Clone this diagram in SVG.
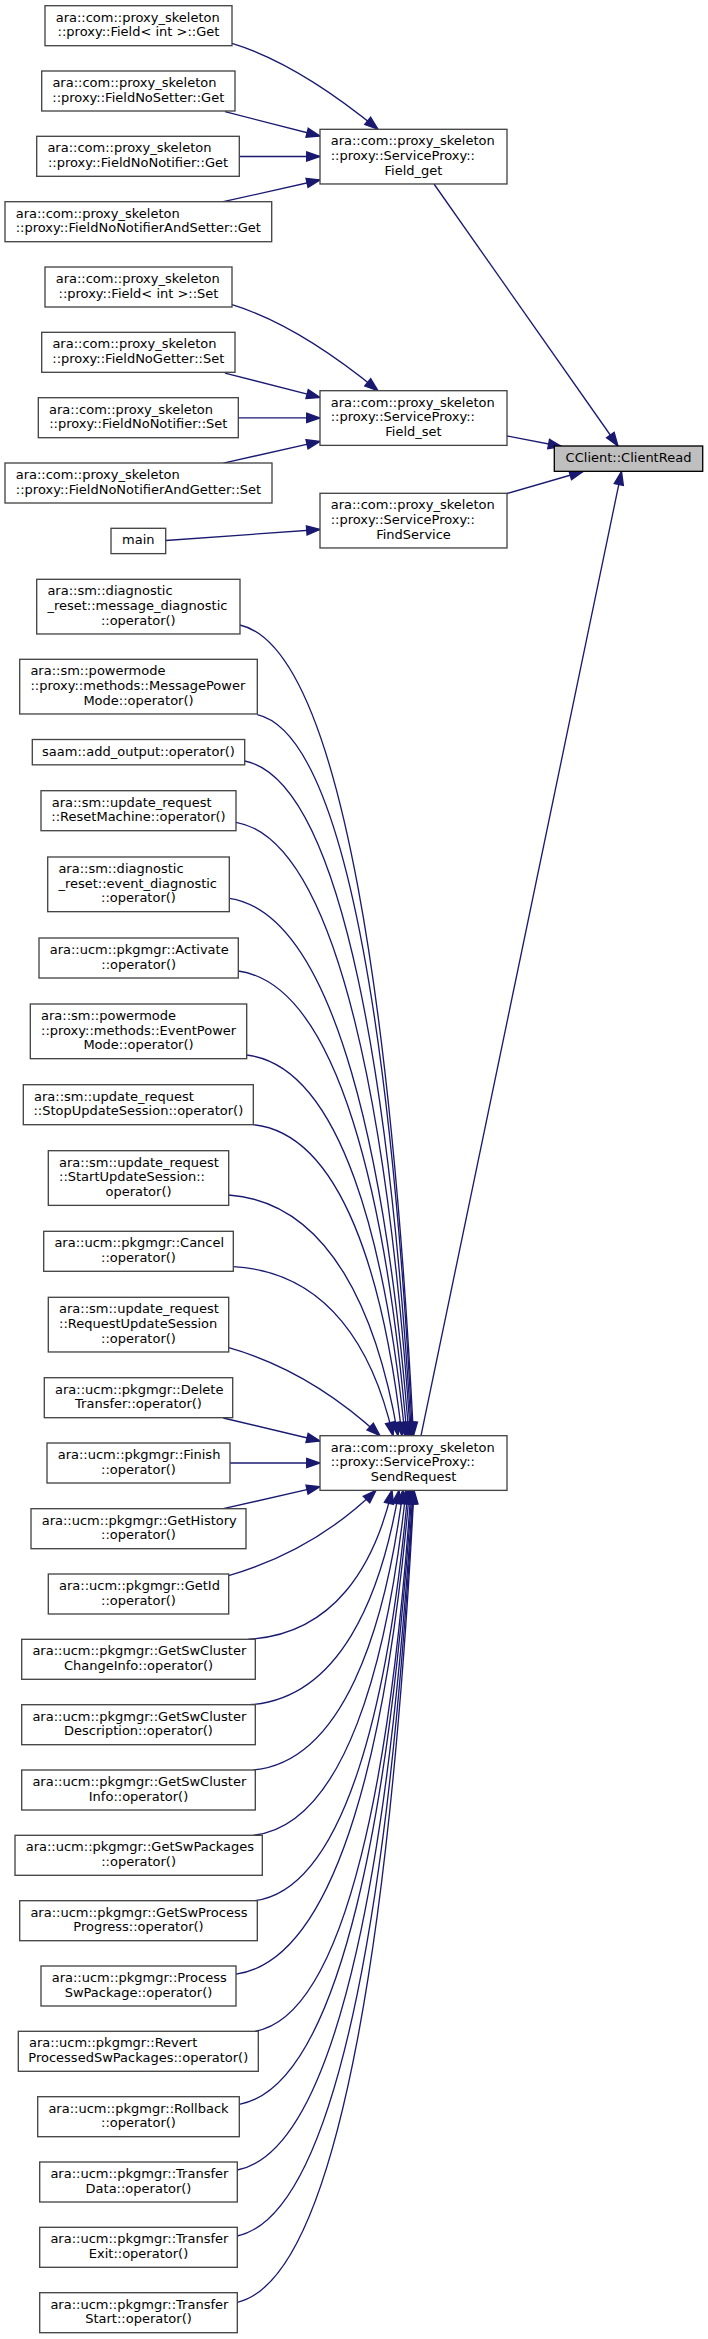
<svg xmlns="http://www.w3.org/2000/svg" width="708" height="2339" viewBox="0 0 708 2339">
<style>
.n rect{fill:#ffffff;stroke:#444444;stroke-width:1.33}
.hl rect{fill:#bfbfbf;stroke:#000000;stroke-width:1.33}
text{font-family:"DejaVu Sans","Liberation Sans",sans-serif;font-size:13px;fill:#000000}
.l{text-anchor:start}
.c{text-anchor:middle}
#edges path{fill:none;stroke:#191970;stroke-width:1.33;marker-end:url(#ah)}
</style>
<defs>
<marker id="ah" viewBox="0 0 14 10" refX="13.3" refY="5" markerWidth="14" markerHeight="10" markerUnits="userSpaceOnUse" orient="auto" overflow="visible">
<path d="M0,0.33 L13.3,5 L0,9.67 Z" fill="#191970" stroke="#191970" stroke-width="1.33"/>
</marker>
</defs>
<rect x="0" y="0" width="708" height="2339" fill="#ffffff"/>
<g id="edges">
<path d="M232,43.3 C280,58 330,90 378,129.3"/>
<path d="M225,111.7 L320,136"/>
<path d="M239.3,156.5 L320,156.5"/>
<path d="M223.3,201.7 L320,180"/>
<path d="M232,304.7 C280,319.4 330,351.4 378,390.7"/>
<path d="M225,373.1 L320,397.4"/>
<path d="M238.3,417.9 L320,417.9"/>
<path d="M223.3,463.1 L320,441.4"/>
<path d="M165.7,540.5 L320,529.5"/>
<path d="M434,184 L618,446"/>
<path d="M507,436 L561.7,446.5"/>
<path d="M507,493.5 L583,471.5"/>
<path d="M421,1435.7 L621.5,471.5"/>
<path d="M240,625 C344.1,649.3 392.7,1030.4 413.5,1435.7"/>
<path d="M257.3,714.7 C350.4,736.3 393.9,1075.2 412.5,1435.7"/>
<path d="M244.7,761 C344.8,781.2 391.5,1098.4 411.5,1435.7"/>
<path d="M236,822.3 C340.7,840.7 389.6,1129 410.5,1435.7"/>
<path d="M229.3,898.3 C337.1,914.4 387.4,1167 409,1435.7"/>
<path d="M238.3,971 C339.5,984.9 386.8,1203.4 407,1435.7"/>
<path d="M246.7,1055 C341.7,1066.4 386,1245.4 405,1435.7"/>
<path d="M253.3,1124.7 C342.5,1134 384.2,1280.2 402,1435.7"/>
<path d="M228.7,1195 C330.3,1202.2 377.7,1315.4 398,1435.7"/>
<path d="M233.3,1266.7 C329.1,1271.8 373.8,1351.2 393,1435.7"/>
<path d="M228.7,1347.7 C272,1360 325,1385 380,1435.7"/>
<path d="M223.3,1418 L320,1441"/>
<path d="M230,1463 L320,1463"/>
<path d="M223.3,1508.7 L320,1486.7"/>
<path d="M228.7,1575.7 C272,1563 325,1540 376,1490.3"/>
<path d="M248,1639.3 C334.4,1634.8 374.7,1564.8 392,1490.3"/>
<path d="M250,1704.7 C339.4,1698.3 381.1,1597.5 399,1490.3"/>
<path d="M253.3,1770 C343.1,1761.6 385,1630.2 403,1490.3"/>
<path d="M253.3,1835.3 C344.9,1825 387.7,1662.8 406,1490.3"/>
<path d="M255,1900.7 C346.8,1888.4 389.6,1695.5 408,1490.3"/>
<path d="M236,1974.2 C340.1,1959.7 388.7,1732.3 409.5,1490.3"/>
<path d="M255,2031.3 C348.6,2015.1 392.3,1760.8 411,1490.3"/>
<path d="M239.3,2104.3 C342.9,2085.9 391.3,1797.3 412,1490.3"/>
<path d="M237.3,2170 C342.7,2149.6 391.9,1830.2 413,1490.3"/>
<path d="M237.3,2236 C343,2213.6 392.4,1863.2 413.5,1490.3"/>
<path d="M237.3,2302.3 C343.3,2277.9 392.8,1896.3 414,1490.3"/>
</g>
<g id="clientread" class="hl"><rect x="554.3" y="446" width="148.4" height="25.33"/><text class="c" x="628.5" y="462">CClient::ClientRead</text></g>
<g id="field_get" class="n"><rect x="320" y="129.3" width="187" height="54.67"/><text class="l" x="330.7" y="145.3">ara::com::proxy_skeleton</text><text class="l" x="330.7" y="160">::proxy::ServiceProxy::</text><text class="c" x="413.5" y="174.7">Field_get</text></g>
<g id="field_set" class="n"><rect x="320" y="390.7" width="187" height="54.67"/><text class="l" x="330.7" y="406.7">ara::com::proxy_skeleton</text><text class="l" x="330.7" y="421.4">::proxy::ServiceProxy::</text><text class="c" x="413.5" y="436.1">Field_set</text></g>
<g id="findservice" class="n"><rect x="320" y="493.3" width="187" height="54.67"/><text class="l" x="330.7" y="509.3">ara::com::proxy_skeleton</text><text class="l" x="330.7" y="524">::proxy::ServiceProxy::</text><text class="c" x="413.5" y="538.7">FindService</text></g>
<g id="sendrequest" class="n"><rect x="320" y="1435.7" width="187" height="54.67"/><text class="l" x="330.7" y="1451.7">ara::com::proxy_skeleton</text><text class="l" x="330.7" y="1466.4">::proxy::ServiceProxy::</text><text class="c" x="413.5" y="1481.1">SendRequest</text></g>
<g id="n1" class="n"><rect x="45" y="5.7" width="187" height="40"/><text class="l" x="55.7" y="21.7">ara::com::proxy_skeleton</text><text class="c" x="138.5" y="36.4">::proxy::Field&lt; int &gt;::Get</text></g>
<g id="n2" class="n"><rect x="41.7" y="71" width="193.3" height="40"/><text class="l" x="52.4" y="87">ara::com::proxy_skeleton</text><text class="c" x="138.3" y="101.7">::proxy::FieldNoSetter::Get</text></g>
<g id="n3" class="n"><rect x="36.7" y="136.3" width="202.6" height="40"/><text class="l" x="47.4" y="152.3">ara::com::proxy_skeleton</text><text class="c" x="138" y="167">::proxy::FieldNoNotifier::Get</text></g>
<g id="n4" class="n"><rect x="5" y="201.7" width="266.7" height="40"/><text class="l" x="15.7" y="217.7">ara::com::proxy_skeleton</text><text class="c" x="138.3" y="232.4">::proxy::FieldNoNotifierAndSetter::Get</text></g>
<g id="n5" class="n"><rect x="45" y="267" width="187" height="40"/><text class="l" x="55.7" y="283">ara::com::proxy_skeleton</text><text class="c" x="138.5" y="297.7">::proxy::Field&lt; int &gt;::Set</text></g>
<g id="n6" class="n"><rect x="41.7" y="332.3" width="193.3" height="40"/><text class="l" x="52.4" y="348.3">ara::com::proxy_skeleton</text><text class="c" x="138.3" y="363">::proxy::FieldNoGetter::Set</text></g>
<g id="n7" class="n"><rect x="38.3" y="397.7" width="200" height="40"/><text class="l" x="49" y="413.7">ara::com::proxy_skeleton</text><text class="c" x="138.3" y="428.4">::proxy::FieldNoNotifier::Set</text></g>
<g id="n8" class="n"><rect x="5" y="463" width="267" height="40"/><text class="l" x="15.7" y="479">ara::com::proxy_skeleton</text><text class="c" x="138.5" y="493.7">::proxy::FieldNoNotifierAndGetter::Set</text></g>
<g id="n9" class="n"><rect x="111" y="528.3" width="54.7" height="25.33"/><text class="c" x="138.3" y="544.3">main</text></g>
<g id="n10" class="n"><rect x="36.7" y="579.3" width="203.3" height="54.67"/><text class="l" x="47.4" y="595.3">ara::sm::diagnostic</text><text class="l" x="47.4" y="610">_reset::message_diagnostic</text><text class="c" x="138.3" y="624.7">::operator()</text></g>
<g id="n11" class="n"><rect x="19.7" y="659.3" width="237.6" height="54.67"/><text class="l" x="30.4" y="675.3">ara::sm::powermode</text><text class="l" x="30.4" y="690">::proxy::methods::MessagePower</text><text class="c" x="138.5" y="704.7">Mode::operator()</text></g>
<g id="n12" class="n"><rect x="32.3" y="739.5" width="212.4" height="25.33"/><text class="c" x="138.5" y="755.5">saam::add_output::operator()</text></g>
<g id="n13" class="n"><rect x="41" y="790.7" width="195" height="40"/><text class="l" x="51.7" y="806.7">ara::sm::update_request</text><text class="c" x="138.5" y="821.4">::ResetMachine::operator()</text></g>
<g id="n14" class="n"><rect x="47.7" y="857" width="181.6" height="54.67"/><text class="l" x="58.4" y="873">ara::sm::diagnostic</text><text class="l" x="58.4" y="887.7">_reset::event_diagnostic</text><text class="c" x="138.5" y="902.4">::operator()</text></g>
<g id="n15" class="n"><rect x="39" y="938" width="199.3" height="40"/><text class="l" x="49.7" y="954">ara::ucm::pkgmgr::Activate</text><text class="c" x="138.7" y="968.7">::operator()</text></g>
<g id="n16" class="n"><rect x="30.3" y="1004" width="216.4" height="54.67"/><text class="l" x="41" y="1020">ara::sm::powermode</text><text class="l" x="41" y="1034.7">::proxy::methods::EventPower</text><text class="c" x="138.5" y="1049.4">Mode::operator()</text></g>
<g id="n17" class="n"><rect x="23.3" y="1084.7" width="230" height="40"/><text class="l" x="34" y="1100.7">ara::sm::update_request</text><text class="c" x="138.3" y="1115.4">::StopUpdateSession::operator()</text></g>
<g id="n18" class="n"><rect x="48.3" y="1150.7" width="180.4" height="54.67"/><text class="l" x="59" y="1166.7">ara::sm::update_request</text><text class="l" x="59" y="1181.4">::StartUpdateSession::</text><text class="c" x="138.5" y="1196.1">operator()</text></g>
<g id="n19" class="n"><rect x="43.7" y="1231.3" width="189.6" height="40"/><text class="l" x="54.4" y="1247.3">ara::ucm::pkgmgr::Cancel</text><text class="c" x="138.5" y="1262">::operator()</text></g>
<g id="n20" class="n"><rect x="48.3" y="1297.3" width="180.4" height="54.67"/><text class="l" x="59" y="1313.3">ara::sm::update_request</text><text class="l" x="59" y="1328">::RequestUpdateSession</text><text class="c" x="138.5" y="1342.7">::operator()</text></g>
<g id="n21" class="n"><rect x="44.3" y="1377.7" width="188.4" height="40"/><text class="l" x="55" y="1393.7">ara::ucm::pkgmgr::Delete</text><text class="c" x="138.5" y="1408.4">Transfer::operator()</text></g>
<g id="n22" class="n"><rect x="47" y="1443" width="183" height="40"/><text class="l" x="57.7" y="1459">ara::ucm::pkgmgr::Finish</text><text class="c" x="138.5" y="1473.7">::operator()</text></g>
<g id="n23" class="n"><rect x="31" y="1508.7" width="215" height="40"/><text class="l" x="41.7" y="1524.7">ara::ucm::pkgmgr::GetHistory</text><text class="c" x="138.5" y="1539.4">::operator()</text></g>
<g id="n24" class="n"><rect x="48.3" y="1574" width="180.4" height="40"/><text class="l" x="59" y="1590">ara::ucm::pkgmgr::GetId</text><text class="c" x="138.5" y="1604.7">::operator()</text></g>
<g id="n25" class="n"><rect x="21.7" y="1639.3" width="233.6" height="40"/><text class="l" x="32.4" y="1655.3">ara::ucm::pkgmgr::GetSwCluster</text><text class="c" x="138.5" y="1670">ChangeInfo::operator()</text></g>
<g id="n26" class="n"><rect x="21.7" y="1704.7" width="233.6" height="40"/><text class="l" x="32.4" y="1720.7">ara::ucm::pkgmgr::GetSwCluster</text><text class="c" x="138.5" y="1735.4">Description::operator()</text></g>
<g id="n27" class="n"><rect x="21.7" y="1770" width="233.6" height="40"/><text class="l" x="32.4" y="1786">ara::ucm::pkgmgr::GetSwCluster</text><text class="c" x="138.5" y="1800.7">Info::operator()</text></g>
<g id="n28" class="n"><rect x="15" y="1835.3" width="247.3" height="40"/><text class="l" x="25.7" y="1851.3">ara::ucm::pkgmgr::GetSwPackages</text><text class="c" x="138.6" y="1866">::operator()</text></g>
<g id="n29" class="n"><rect x="19.7" y="1900.7" width="237.6" height="40"/><text class="l" x="30.4" y="1916.7">ara::ucm::pkgmgr::GetSwProcess</text><text class="c" x="138.5" y="1931.4">Progress::operator()</text></g>
<g id="n30" class="n"><rect x="41" y="1966" width="195" height="40"/><text class="l" x="51.7" y="1982">ara::ucm::pkgmgr::Process</text><text class="c" x="138.5" y="1996.7">SwPackage::operator()</text></g>
<g id="n31" class="n"><rect x="18.3" y="2031.3" width="240" height="40"/><text class="l" x="29" y="2047.3">ara::ucm::pkgmgr::Revert</text><text class="c" x="138.3" y="2062">ProcessedSwPackages::operator()</text></g>
<g id="n32" class="n"><rect x="37.7" y="2096.7" width="201.6" height="40"/><text class="l" x="48.4" y="2112.7">ara::ucm::pkgmgr::Rollback</text><text class="c" x="138.5" y="2127.4">::operator()</text></g>
<g id="n33" class="n"><rect x="39.7" y="2162" width="197.6" height="40"/><text class="l" x="50.4" y="2178">ara::ucm::pkgmgr::Transfer</text><text class="c" x="138.5" y="2192.7">Data::operator()</text></g>
<g id="n34" class="n"><rect x="39.7" y="2227.3" width="197.6" height="40"/><text class="l" x="50.4" y="2243.3">ara::ucm::pkgmgr::Transfer</text><text class="c" x="138.5" y="2258">Exit::operator()</text></g>
<g id="n35" class="n"><rect x="39.7" y="2292.7" width="197.6" height="40"/><text class="l" x="50.4" y="2308.7">ara::ucm::pkgmgr::Transfer</text><text class="c" x="138.5" y="2323.4">Start::operator()</text></g>
</svg>
